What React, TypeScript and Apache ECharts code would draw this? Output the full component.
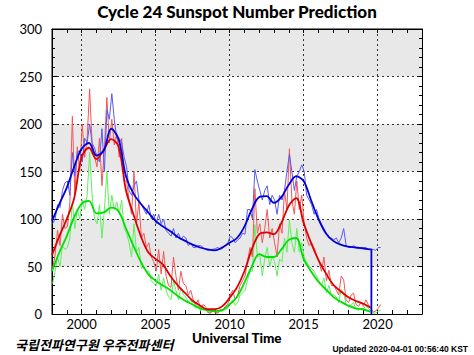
import React, { useEffect, useRef } from "react";
import * as echarts from "echarts";

const titleText = "Cycle 24 Sunspot Number Prediction";
const xTitle = "Universal Time";
const orgText = "국립전파연구원 우주전파센터";
const updatedText = "Updated 2020-04-01 00:56:40 KST";

const yearLabels = [
  "1998", "1999", "2000", "2001", "2002", "2003", "2004", "2005", "2006",
  "2007", "2008", "2009", "2010", "2011", "2012", "2013", "2014", "2015",
  "2016", "2017", "2018", "2019", "2020", "2021", "2022", "2023",
];

const START_YEAR = 1998;
const SMOOTH_STEP = 0.5;
const MONTHLY_STEP = 1 / 6;

// smoothed values, every half year from 1998.0 to 2019.5
const blueSmooth = [
  98, 116, 133, 155, 174, 180, 167, 172, 195, 184,
  145, 127, 116, 107, 98, 92, 87, 81, 77, 73,
  70, 68, 67, 70, 75, 80, 92, 110, 123, 124,
  117, 123, 136, 145, 140, 120, 100, 85, 77, 73,
  71, 70, 69, 68,
];
const redSmooth = [
  62, 82, 100, 122, 165, 175, 163, 173, 184, 176,
  130, 105, 82, 65, 58, 52, 40, 30, 22, 14,
  9, 5, 5, 8, 17, 28, 45, 68, 84, 86,
  84, 96, 114, 122, 96, 75, 57, 43, 31, 24,
  18, 14, 11, 7,
];
const greenSmooth = [
  45, 65, 82, 102, 116, 119, 106, 107, 112, 108,
  90, 72, 55, 42, 35, 30, 25, 19, 14, 10,
  6, 4, 3, 4, 10, 18, 33, 50, 63, 60,
  60, 68, 78, 80, 58, 45, 34, 26, 18, 13,
  9, 6, 5, 2.5,
];
const blueDropYear = 2019.58;

// monthly values, sampled every two months from 1998.0 to 2020.2
const blueMonthly = [
  95, 100, 115, 112, 130, 138,
  140, 125, 170, 145, 170, 172,
  160, 185, 180, 200, 180, 175,
  165, 160, 195, 150, 215, 205,
  232, 205, 185, 185, 180, 165,
  155, 130, 125, 135, 140, 120,
  115, 110, 105, 115, 100, 105,
  95, 105, 95, 100, 88, 85,
  82, 90, 80, 85, 78, 82,
  80, 72, 75, 70, 70, 72,
  72, 70, 68, 67, 68, 68,
  69, 70, 68, 69, 72, 75,
  82, 80, 75, 78, 80, 85,
  84, 110, 110, 100, 152, 140,
  130, 120, 130, 135, 115, 125,
  120, 105, 125, 120, 130, 150,
  168, 150, 130, 145, 150, 157,
  150, 125, 120, 115, 105, 110,
  100, 95, 90, 85, 80, 80,
  78, 80, 75, 80, 90, 72,
  70, 70, 72, 70, 69, 70,
  70, 70, 68, 68, 68, 67,
  70, 70,
];
const redMonthly = [
  48, 62, 88, 72, 105, 90,
  92, 118, 208, 125, 176, 150,
  200, 165, 185, 237, 180, 165,
  155, 185, 135, 175, 228, 180,
  205, 178, 190, 165, 185, 140,
  140, 120, 105, 150, 95, 118,
  80, 85, 70, 75, 60, 55,
  45, 68, 42, 66, 40, 30,
  28, 60, 40, 25, 45, 32,
  30, 20, 25, 15, 10, 15,
  5, 10, 8, 2, 1, 5,
  2, 1, 5, 4, 8, 10,
  20, 25, 15, 20, 30, 35,
  40, 55, 70, 60, 132, 85,
  95, 75, 90, 110, 80, 90,
  75, 60, 95, 85, 130, 110,
  174, 120, 105, 140, 110, 125,
  95, 80, 72, 75, 70, 62,
  55, 45, 60, 35, 46, 30,
  30, 25, 20, 40, 36, 15,
  12, 20, 22, 10, 8, 12,
  8, 15, 10, 6, 2, 3,
  6, 10,
];
const greenMonthly = [
  32, 45, 60, 50, 72, 68,
  70, 80, 118, 90, 110, 100,
  120, 110, 125, 170, 125, 100,
  95, 115, 80, 110, 150, 105,
  125, 110, 118, 105, 120, 90,
  85, 75, 60, 95, 65, 70,
  48, 50, 45, 45, 35, 32,
  30, 42, 25, 38, 25, 18,
  15, 35, 25, 15, 28, 20,
  18, 12, 15, 9, 6, 9,
  3, 6, 5, 1, 1, 3,
  1, 1, 3, 3, 5, 6,
  12, 15, 9, 12, 20, 22,
  25, 35, 45, 45, 94, 60,
  62, 40, 58, 70, 50, 60,
  55, 40, 58, 55, 80, 65,
  99, 75, 65, 90, 65, 75,
  60, 55, 50, 48, 45, 40,
  35, 30, 38, 22, 30, 20,
  20, 18, 12, 26, 22, 10,
  7, 10, 12, 5, 4, 6,
  5, 9, 6, 3, 1, 1,
  3, 4,
];

const toPairs = (vals: number[], step: number, offset: number) =>
  vals.map((v, i) => [START_YEAR + offset + i * step, v]);

export default function App() {
  const ref = useRef<HTMLDivElement>(null);

  useEffect(() => {
    if (!ref.current) return;
    const chart = echarts.init(ref.current, undefined, { renderer: "svg" });

    const blueS = toPairs(blueSmooth, SMOOTH_STEP, 0);
    const lastBlue = blueS[blueS.length - 1];
    const blueDrop = [
      [lastBlue[0], lastBlue[1]],
      [blueDropYear, lastBlue[1]],
      [blueDropYear, 0],
    ];

    const labelFont = "Lato, 'DejaVu Sans', sans-serif";
    const isMajor = (_i: number, v: string) => Number(v) % 5 === 0;

    const monthly = (name: string, data: number[], color: string) => ({
      name,
      type: "line",
      xAxisIndex: 0,
      yAxisIndex: 0,
      data: toPairs(data, MONTHLY_STEP, 1 / 24),
      symbol: "none",
      lineStyle: { color, width: 1 },
      itemStyle: { color },
      z: 2,
    });
    const smooth = (name: string, data: any[], color: string) => ({
      name,
      type: "line",
      xAxisIndex: 0,
      yAxisIndex: 0,
      data,
      symbol: "none",
      smooth: 0.35,
      lineStyle: { color, width: 1.8 },
      itemStyle: { color },
      z: 3,
    });

    chart.setOption({
      animation: false,
      backgroundColor: "#ffffff",
      title: {
        text: titleText,
        left: "center",
        top: 3,
        padding: 0,
        textStyle: {
          fontFamily: labelFont,
          fontWeight: 900,
          fontSize: 17,
          color: "#000",
        },
      },
      grid: {
        left: 52,
        right: 52,
        top: 29,
        bottom: 41,
        show: true,
        borderColor: "#000",
        borderWidth: 1,
        backgroundColor: "transparent",
      },
      xAxis: [
        { type: "value", min: 1998, max: 2023, show: false },
        {
          type: "category",
          data: yearLabels,
          boundaryGap: false,
          position: "bottom",
          z: 1,
          axisLine: { show: true, lineStyle: { color: "#000", width: 1 } },
          axisTick: {
            show: true,
            inside: true,
            interval: 0,
            length: 4,
            lineStyle: { color: "#000" },
          },
          axisLabel: {
            interval: isMajor,
            color: "#000",
            fontSize: 13,
            fontFamily: labelFont,
            margin: 3,
          },
          splitLine: {
            show: true,
            interval: isMajor,
            lineStyle: { color: "#333", width: 1, type: [2, 3] },
          },
        },
        {
          type: "category",
          data: yearLabels,
          boundaryGap: false,
          position: "top",
          z: 1,
          axisLine: { show: true, lineStyle: { color: "#000", width: 1 } },
          axisTick: {
            show: true,
            inside: true,
            interval: 0,
            length: 4,
            lineStyle: { color: "#000" },
          },
          axisLabel: { show: false },
          splitLine: { show: false },
        },
      ],
      yAxis: [
        {
          type: "value",
          min: 0,
          max: 300,
          interval: 50,
          position: "left",
          z: 0,
          axisLine: { show: true, lineStyle: { color: "#000", width: 1 } },
          axisTick: { show: true, inside: true, length: 5, lineStyle: { color: "#000" } },
          minorTick: { show: true, splitNumber: 5, length: 3, lineStyle: { color: "#000" } },
          axisLabel: {
            color: "#000",
            fontSize: 13,
            fontFamily: labelFont,
            margin: 10,
          },
          splitLine: {
            show: true,
            lineStyle: { color: "#333", width: 1, type: [2, 3] },
          },
          splitArea: {
            show: true,
            areaStyle: { color: ["#ffffff", "#e8e8e8"] },
          },
        },
        {
          type: "value",
          min: 0,
          max: 300,
          interval: 50,
          position: "right",
          z: 1,
          axisLine: { show: true, lineStyle: { color: "#000", width: 1 } },
          axisTick: { show: true, inside: true, length: 5, lineStyle: { color: "#000" } },
          minorTick: { show: true, splitNumber: 5, length: 3, lineStyle: { color: "#000" } },
          axisLabel: { show: false },
          splitLine: { show: false },
          splitArea: { show: false },
        },
      ],
      series: [
        monthly("Green monthly", greenMonthly, "#5cf05c"),
        monthly("Red monthly", redMonthly, "#f25858"),
        monthly("Blue monthly", blueMonthly, "#5a5af0"),
        smooth("Green smoothed", toPairs(greenSmooth, SMOOTH_STEP, 0), "#00e000"),
        smooth("Red smoothed", toPairs(redSmooth, SMOOTH_STEP, 0), "#e00000"),
        smooth("Blue smoothed", blueS, "#0000d8"),
        {
          name: "Blue end",
          type: "line",
          data: blueDrop,
          symbol: "none",
          lineStyle: { color: "#0000d8", width: 1.8 },
          z: 3,
        },
      ],
      graphic: [
        {
          type: "text",
          left: "center",
          top: 331,
          style: {
            text: xTitle,
            font: "900 13.5px Lato, 'DejaVu Sans', sans-serif",
            fill: "#000",
          },
        },
        {
          type: "text",
          left: 15,
          top: 338,
          style: {
            text: orgText,
            font: "italic bold 13px 'Noto Sans CJK KR', sans-serif",
            fill: "#000",
          },
        },
        {
          type: "text",
          right: 6,
          top: 344,
          style: {
            text: updatedText,
            font: "bold 8.5px 'Liberation Sans', sans-serif",
            fill: "#000",
          },
        },
      ],
    });

    return () => chart.dispose();
  }, []);

  return (
    <div
      ref={ref}
      style={{
        position: "absolute",
        left: 0,
        top: 0,
        width: 474,
        height: 355,
        background: "#fff",
      }}
    />
  );
}
